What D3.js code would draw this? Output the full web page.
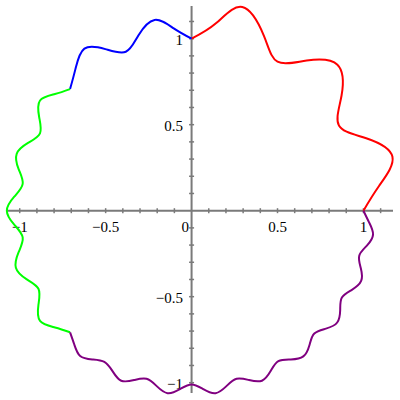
<!DOCTYPE html>
<html><head><meta charset="utf-8">
<script src="https://cdn.jsdelivr.net/npm/d3@7"></script>
<style>body{margin:0;background:#fff}svg{display:block}</style>
</head><body>
<script>
// Curve segments: [angle in degrees, radius]
const redPts = [[90,1.0],[82.5,1.1],[76,1.22],[67.5,1.1],[60,1.0],[52.5,1.1],[45,1.2],[37.5,1.1],[30,0.99],[22.5,1.1],[15,1.21],[7.5,1.1],[0,1.0]];
const bluePts = [[90,1.0],[95.6,1.065],[101,1.13],[106.9,1.065],[112.5,1.0],[118.1,1.065],[123.5,1.13],[129.4,1.065],[135,1.0]];
const greenPts = [[135,1.0],[139.5,1.045],[144,1.09],[148.5,1.04],[153,0.99],[157.5,1.03],[162,1.07],[166.5,1.035],[171,0.995],[175.5,1.035],[180,1.075],[184.5,1.035],[189,0.995],[193.5,1.035],[198,1.075],[202.5,1.04],[207,1.0],[211.5,1.045],[216,1.09],[220.5,1.045],[225,1.0]];
const purplePts = [[225,1.0],[228.75,1.035],[232.5,1.065],[236.25,1.04],[240,1.015],[243.75,1.04],[247.5,1.07],[251.25,1.04],[255,1.012],[258.75,1.04],[262.5,1.07],[266.25,1.04],[270,1.01],[273.75,1.04],[277.5,1.07],[281.25,1.04],[285,1.012],[288.75,1.04],[292.5,1.07],[296.25,1.04],[300,1.01],[303.75,1.04],[307.5,1.068],[311.25,1.04],[315,1.01],[318.75,1.04],[322.5,1.068],[326.25,1.04],[330,1.01],[333.75,1.04],[337.5,1.068],[341.25,1.04],[345,1.01],[348.75,1.04],[352.5,1.065],[356.25,1.035],[360,1.0]];
const segColors = ["#ff0000","#0000ff","#00ff00","#800080"];
const xTickLabels = ["\u22121","\u22120.5","0.5","1"];
const xTickValues = [-1,-0.5,0.5,1];
const yTickLabels = ["\u22121","\u22120.5","0.5","1"];
const yTickValues = [-1,-0.5,0.5,1];

const W = 400, H = 400;
const svg = d3.select("body").append("svg").attr("width",W).attr("height",H);
const x = d3.scaleLinear().domain([-1.074,1.172]).range([7,393]);
const y = d3.scaleLinear().domain([-1.06,1.19]).range([393,6]);
const axisColor = "#7a7a7a";

// x axis
svg.append("line").attr("x1",7).attr("x2",393).attr("y1",y(0)).attr("y2",y(0))
  .attr("stroke",axisColor).attr("stroke-width",2);
svg.append("line").attr("x1",x(0)).attr("x2",x(0)).attr("y1",6).attr("y2",393)
  .attr("stroke",axisColor).attr("stroke-width",2);
const minor = d3.range(-10,12).map(d=>d/10).filter(d=>Math.abs(d)>1e-9);
svg.selectAll(".xt").data(minor.filter(d=>d<=1.15 && d>=-1.05)).enter().append("line")
  .attr("x1",d=>x(d)).attr("x2",d=>x(d)).attr("y1",y(0)-2.5).attr("y2",y(0)+2.5)
  .attr("stroke",axisColor).attr("stroke-width",1.5);
svg.selectAll(".yt").data(minor.filter(d=>d<=1.15 && d>=-1.05)).enter().append("line")
  .attr("y1",d=>y(d)).attr("y2",d=>y(d)).attr("x1",x(0)-2.5).attr("x2",x(0)+2.5)
  .attr("stroke",axisColor).attr("stroke-width",1.5);

const font = "'Liberation Serif','Times New Roman',serif";
svg.selectAll(".xl").data(xTickValues).enter().append("text")
  .attr("x",d=>x(d)).attr("y",y(0)+21.5).attr("text-anchor","middle")
  .style("font-family",font).style("font-size","15px").text((d,i)=>xTickLabels[i]);
svg.selectAll(".yl").data(yTickValues).enter().append("text")
  .attr("x",x(0)-8.5).attr("y",d=>y(d)+1).attr("text-anchor","end").attr("dominant-baseline","central")
  .style("font-family",font).style("font-size","15px").text((d,i)=>yTickLabels[i]);
svg.append("text").attr("x",x(0)-2.5).attr("y",y(0)+21).attr("text-anchor","end")
  .style("font-family",font).style("font-size","15px").text("0");

const line = d3.line()
  .x(d=>x(d[1]*Math.cos(d[0]*Math.PI/180)))
  .y(d=>y(d[1]*Math.sin(d[0]*Math.PI/180)))
  .curve(d3.curveNatural);
[redPts,bluePts,greenPts,purplePts].forEach((pts,i)=>{
  svg.append("path").attr("d",line(pts)).attr("fill","none")
    .attr("stroke",segColors[i]).attr("stroke-width",2);
});
</script>
</body></html>
